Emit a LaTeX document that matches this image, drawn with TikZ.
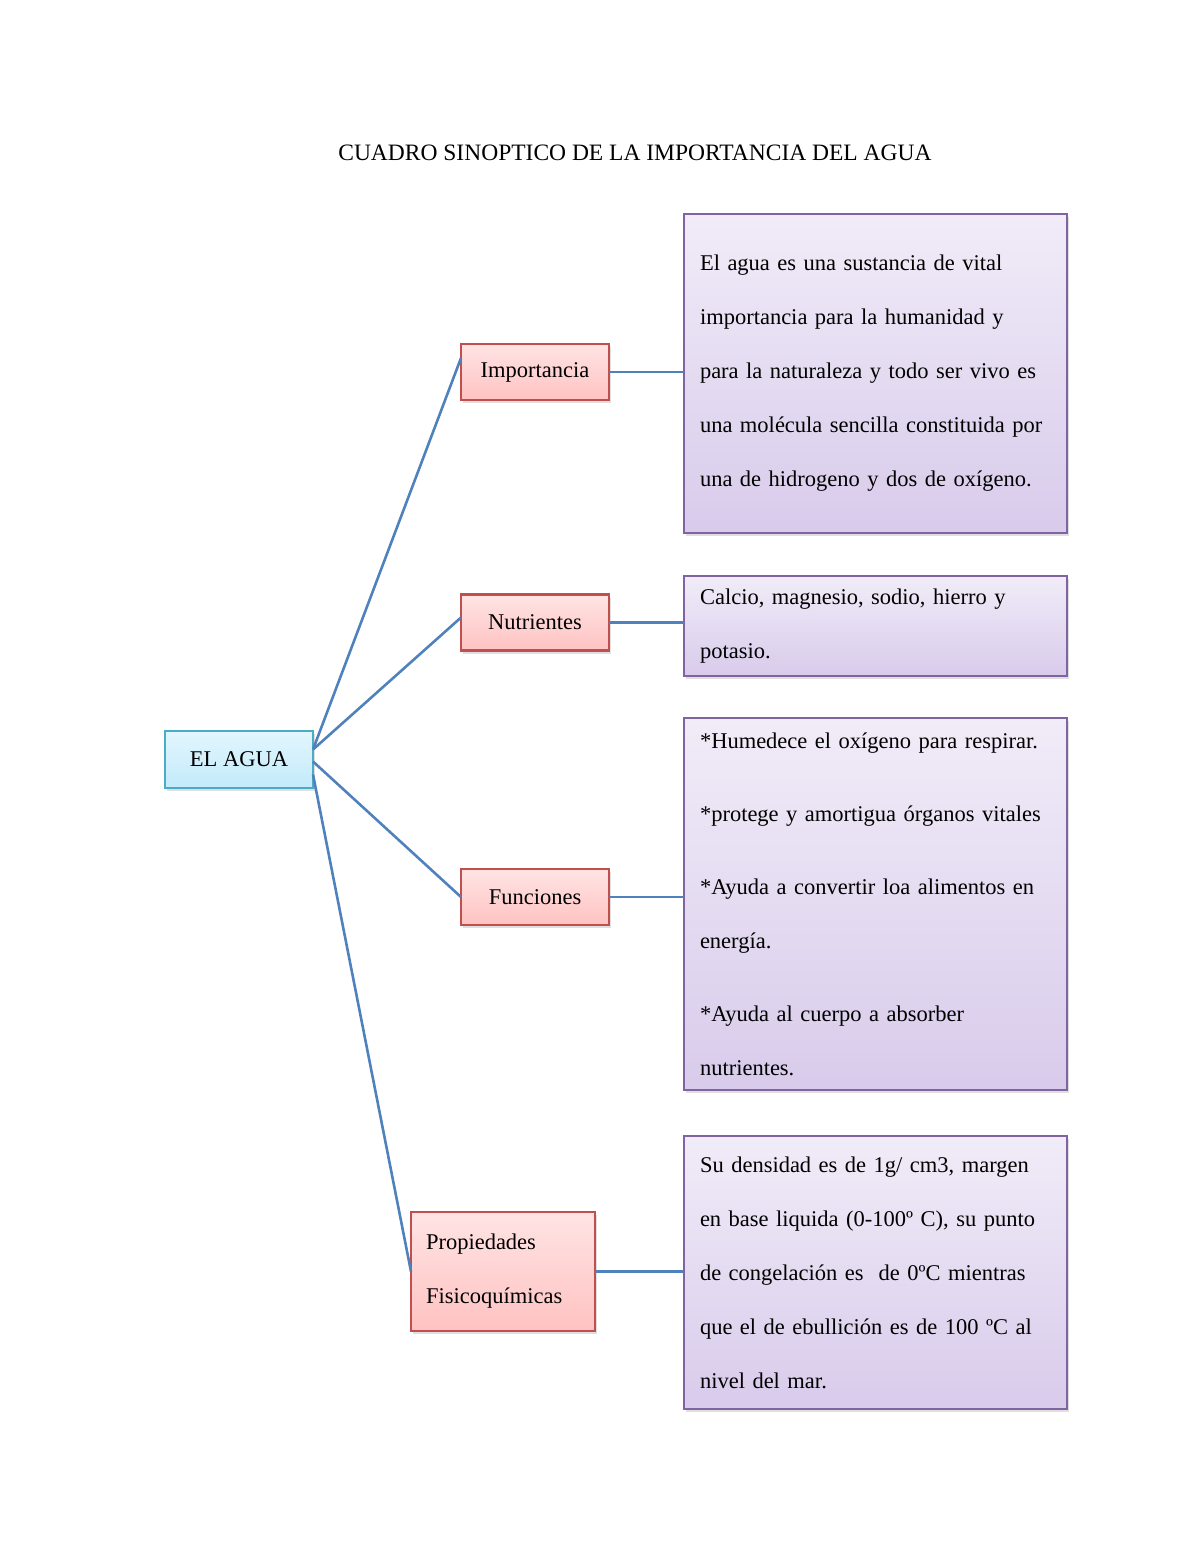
\documentclass[tikz,border=0pt]{standalone}
\usepackage{fontspec}
\setmainfont{Liberation Serif}
\usetikzlibrary{positioning,shadows,calc}
\definecolor{linkblue}{HTML}{4F81BD}
\definecolor{rootline}{HTML}{4BACC6}
\definecolor{roottop}{HTML}{E2F6FE}
\definecolor{rootbot}{HTML}{C4EAFA}
\definecolor{topicline}{HTML}{C0504D}
\definecolor{topictop}{HTML}{FFE4E4}
\definecolor{topicbot}{HTML}{FFC2C2}
\definecolor{detailline}{HTML}{8064A2}
\definecolor{detailtop}{HTML}{F1ECF8}
\definecolor{detailbot}{HTML}{D8CBEB}

\begin{document}
\begin{tikzpicture}[x=1pt,y=-1pt,
font=\fontsize{22.5}{54}\selectfont,
box/.style={draw,line width=2.6pt,inner sep=0pt,outer sep=0pt,
  drop shadow={opacity=.25,shadow xshift=2pt,shadow yshift=-3pt}},
root/.style={box,draw=rootline,top color=roottop,bottom color=rootbot,minimum width=148pt,minimum height=57pt},
topic/.style={box,draw=topicline,top color=topictop,bottom color=topicbot,minimum width=148pt,minimum height=56pt},
detail/.style={box,draw=detailline,top color=detailtop,bottom color=detailbot,minimum width=383pt,
  text width=351pt,inner xsep=16pt,align=left},
link/.style={linkblue,line width=2.6pt}]
\useasboundingbox (0,0) rectangle (1200,1553);
\node[font=\fontsize{23.5}{28}\selectfont](title) at (635,153){CUADRO SINOPTICO DE LA IMPORTANCIA DEL AGUA};
% central node and its four topics
\node[root](agua) at (239,759.5){EL AGUA};
\node[topic](imp) at (535,372){Importancia};
\node[topic](nut) at (535,622.5){Nutrientes};
\node[topic](fun) at (535,897){Funciones};
\node[topic,minimum width=184pt,minimum height=119pt,text width=154pt,inner xsep=15pt,align=left](prop) at (503,1271.5){Propiedades\\Fisicoquímicas};
% detail boxes
\node[detail,minimum height=319pt](dimp) at (875.5,373.5){El agua es una sustancia de vital\\importancia para la humanidad y\\para la naturaleza y todo ser vivo es\\una molécula sencilla constituida por\\una de hidrogeno y dos de oxígeno.};
\node[detail,minimum height=100pt](dnut) at (875.5,626){Calcio, magnesio, sodio, hierro y\\potasio.};
\node[detail,minimum height=372pt](dfun) at (875.5,904){*Humedece el oxígeno para respirar.\\[19pt]*protege y amortigua órganos vitales\\[19pt]*Ayuda a convertir loa alimentos en\\energía.\\[19pt]*Ayuda al cuerpo a absorber\\nutrientes.};
\node[detail,minimum height=273pt](dprop) at (875.5,1272.5){Su densidad es de 1g/ cm3, margen\\en base liquida (0-100º C), su punto\\de congelación es \ de 0ºC mientras\\que el de ebullición es de 100 ºC al\\nivel del mar.};
% connectors
\draw[link]([yshift=10pt]agua.east)--([yshift=14pt]imp.west);
\draw[link]([yshift=10pt]agua.east)--([yshift=5pt]nut.west);
\draw[link]([yshift=-2pt]agua.east)--(fun.west);
\draw[link]([yshift=-15pt]agua.east)--(prop.west);
\draw[link](imp.east)--(imp.east-|dimp.west);
\draw[link](nut.east)--(nut.east-|dnut.west);
\draw[link](fun.east)--(fun.east-|dfun.west);
\draw[link](prop.east)--(prop.east-|dprop.west);
\end{tikzpicture}
\end{document}
